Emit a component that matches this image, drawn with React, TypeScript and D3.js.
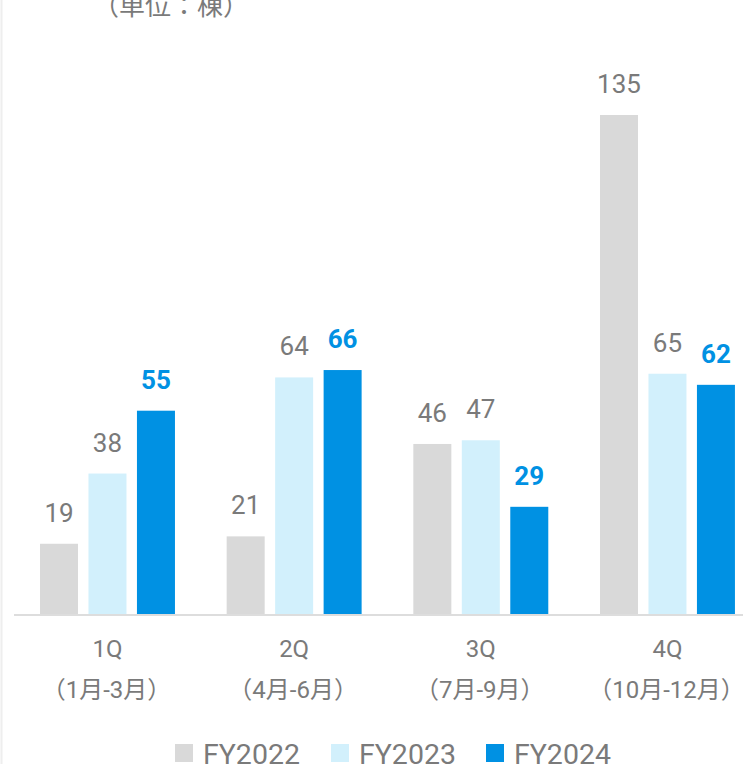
import React from "react";
import * as d3 from "d3";

const quarters = ["1Q", "2Q", "3Q", "4Q"];
const quarterSubs = ["（1月-3月）", "（4月-6月）", "（7月-9月）", "（10月-12月）"];
const seriesNames = ["FY2022", "FY2023", "FY2024"];
const fy2022 = [19, 21, 46, 135];
const fy2023 = [38, 64, 47, 65];
const fy2024 = [55, 66, 29, 62];
const unitLabel = "（単位：棟）";

const colors = ["#d9d9d9", "#d2f0fc", "#0091e3"];
const labelColors = ["#7a7a7a", "#7a7a7a", "#0091e3"];

const W = 743;
const H = 764;
const baseY = 614;
const FONT = "Roboto, 'Noto Sans CJK JP', sans-serif";

export default function App() {
  const values = [fy2022, fy2023, fy2024];
  const p = 0.277;
  const x0 = d3.scaleBand<string>().domain(quarters).range([14.15, 760.8]).paddingInner(p).paddingOuter(p / 2);
  const x1 = d3.scaleBand<string>().domain(seriesNames).range([0, x0.bandwidth()]).paddingInner(0.216).paddingOuter(0);
  const y = d3.scaleLinear().domain([0, 135]).range([baseY, 115]);

  const legendX = [175, 331, 486];

  return (
    <svg width={W} height={H} style={{ position: "absolute", left: 0, top: 0, background: "#fff" }} fontFamily={FONT}>
      <line x1={1.5} x2={1.5} y1={0} y2={H} stroke="#eeeeee" strokeWidth={2} />
      <text x={171} y={15} textAnchor="middle" fontSize={26} fill="#7a7a7a">{unitLabel}</text>
      {quarters.map((q, qi) => (
        <g key={q} transform={`translate(${x0(q)},0)`}>
          {seriesNames.map((s, si) => {
            const v = values[si][qi];
            const bx = x1(s)!;
            return (
              <g key={s}>
                <rect x={bx} y={y(v)} width={x1.bandwidth()} height={baseY - y(v)} fill={colors[si]} />
                <text
                  x={bx + x1.bandwidth() / 2}
                  y={y(v) - 22}
                  textAnchor="middle"
                  fontSize={26}
                  fontWeight={si === 2 ? 700 : 400}
                  fill={labelColors[si]}
                >
                  {v}
                </text>
              </g>
            );
          })}
          <text x={x0.bandwidth() / 2} y={657} textAnchor="middle" fontSize={24} fill="#7a7a7a">{q}</text>
          <text x={x0.bandwidth() / 2 - 1} y={698} textAnchor="middle" fontSize={24} fill="#7a7a7a">{quarterSubs[qi]}</text>
        </g>
      ))}
      <line x1={14} x2={W} y1={baseY + 1} y2={baseY + 1} stroke="#dddddd" strokeWidth={2} />
      {seriesNames.map((s, si) => (
        <g key={s} transform={`translate(${legendX[si]},0)`}>
          <rect x={0} y={744} width={18} height={18} fill={colors[si]} />
          <text x={28} y={764} fontSize={28.5} fill="#7a7a7a">{s}</text>
        </g>
      ))}
    </svg>
  );
}
